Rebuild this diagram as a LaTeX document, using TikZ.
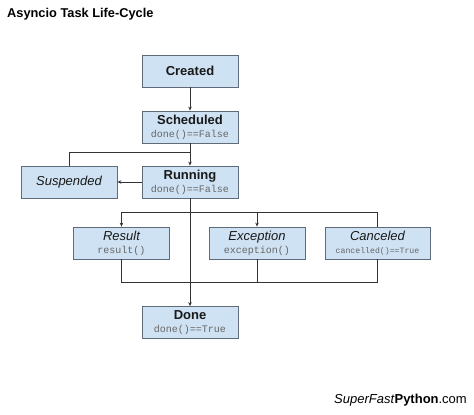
\documentclass[tikz,border=0pt]{standalone}
\usepackage{fontspec}
\setmainfont{Liberation Sans}
\setmonofont{Liberation Mono}
\usetikzlibrary{arrows.meta}
\definecolor{boxfill}{HTML}{CFE2F3}
\definecolor{boxline}{HTML}{5F6B78}
\definecolor{codegray}{HTML}{666666}
\definecolor{wire}{HTML}{333333}
\newcommand{\codetext}[1]{{\fontsize{10}{11}\selectfont\ttfamily\color{codegray}#1}}

\begin{document}
\begin{tikzpicture}[x=1pt, y=1pt,
    state/.style={draw=boxline, fill=boxfill, line width=0.8pt, minimum width=96pt,
        minimum height=32pt, inner sep=0pt, align=center,
        font=\fontsize{13}{14}\selectfont, text=black!90},
    flow/.style={draw=wire, line width=0.7pt, -{Stealth[length=4pt,width=3.5pt]}},
    link/.style={draw=wire, line width=0.7pt}]
    \useasboundingbox (0,0) rectangle (474,415);
    \node [anchor=west, inner sep=0pt, font=\fontsize{12.8}{15}\selectfont\bfseries] (title) at (7,401) {Asyncio Task Life-Cycle};
    \node [state] (created) at (190,344) {\bfseries Created};
    \node [state] (scheduled) at (190,288) {{\bfseries Scheduled}\\[-1pt]\codetext{done()==False}};
    \node [state] (running) at (190,233) {{\bfseries Running}\\[-1pt]\codetext{done()==False}};
    \node [state] (suspended) at (69,233) {\itshape Suspended};
    \node [state] (result) at (121.5,172) {{\itshape Result}\\[-1pt]\codetext{result()}};
    \node [state] (exception) at (257,172) {{\itshape Exception}\\[-1pt]\codetext{exception()}};
    \node [state, minimum width=105pt] (canceled) at (377.5,172) {{\itshape Canceled}\\[-1pt]{\fontsize{8.2}{9}\selectfont\ttfamily\color{codegray}cancelled()==True}};
    \node [state] (done) at (190,92.5) {{\bfseries Done}\\[-1pt]\codetext{done()==True}};
    \node [anchor=east, inner sep=0pt, font=\fontsize{13}{15}\selectfont] (site) at (467,15) {\textit{SuperFast}\textbf{Python}.com};
    \coordinate (split) at (190,263);
    \coordinate (fork) at (190,203);
    \coordinate (join) at (190,133);
    \draw [flow] (created) -- (scheduled);
    \draw [flow] (scheduled) -- (running);
    \draw [link] (split) -| (suspended);
    \draw [flow] (running) -- (suspended);
    \draw [flow] (running) -- (done);
    \draw [flow] (fork) -| (result);
    \draw [flow] (fork) -| (exception);
    \draw [link] (fork) -| (canceled);
    \draw [link] (result) |- (join);
    \draw [link] (exception) |- (join);
    \draw [link] (canceled) |- (join);
\end{tikzpicture}
\end{document}
